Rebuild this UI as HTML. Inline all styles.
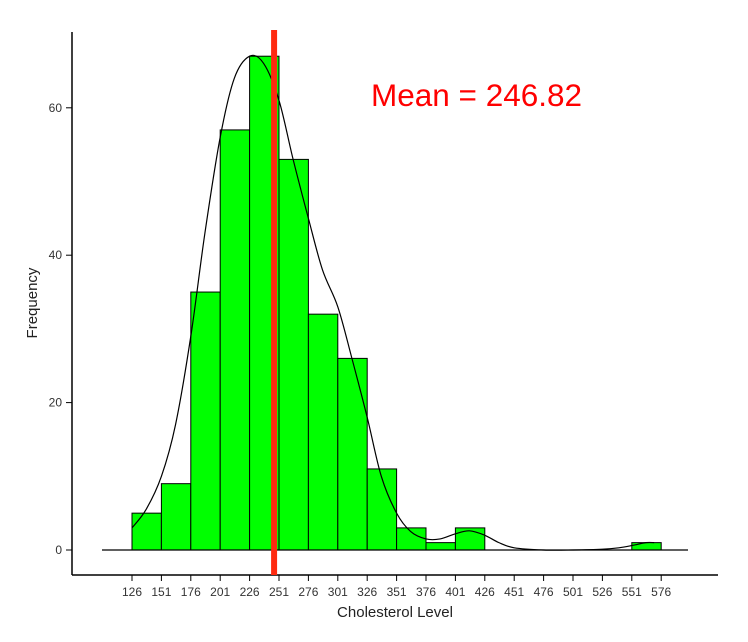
<!DOCTYPE html>
<html><head><meta charset="utf-8"><style>
body{margin:0;background:#fff;}
svg{display:block;font-family:"Liberation Sans",sans-serif;}
</style></head><body>
<svg id="c" width="748" height="642" viewBox="0 0 748 642">
<g id="bars"></g>
</svg>
<script>
const binStarts=[126,151,176,201,226,251,276,301,326,351,376,401,426,451,476,501,526,551];
const counts=[5,9,35,57,67,53,32,26,11,3,1,3,0,0,0,0,0,1];
const tickLabels=["126","151","176","201","226","251","276","301","326","351","376","401","426","451","476","501","526","551","576"];
const yTicks=[0,20,40,60];
const densX=[126,138,151,163,176,188,201,213,226,238,251,263,276,288,301,313,326,338,351,363,376,388,401,413,426,438,451,476,501,526,540,551,563,570];
const densY=[3,5.5,10,17,29,43,56,64,67,66,61,53,45,38,33,26,18,10,5,2.5,1.5,1.5,2.2,2.6,2,1,0.3,0,0,0.1,0.3,0.6,1,1];
const meanVal=246.82;
const NS="http://www.w3.org/2000/svg";
const svg=document.getElementById('c');
const x=v=>132+(v-126)/25*29.4;
const y=v=>550-v*7.37;
function mk(t,a,p){const e=document.createElementNS(NS,t);for(const k in a)e.setAttribute(k,a[k]);(p||svg).appendChild(e);return e;}
let ya=mk('line',{x1:72,y1:32,x2:72,y2:575,stroke:'#000','stroke-width':1.5});


let xa=mk('line',{x1:72,y1:575,x2:718,y2:575,stroke:'#000','stroke-width':1.5});


const bg=document.getElementById('bars');
counts.forEach((c,i)=>{
 if(c<=0)return;
 const r=mk('rect',{x:x(binStarts[i]),y:y(c),width:x(binStarts[i]+25)-x(binStarts[i]),height:y(0)-y(c),fill:'#00ff00',stroke:'#000','stroke-width':1},bg);
 
 
});
let bl=mk('line',{x1:102,y1:550,x2:688,y2:550,stroke:'#000','stroke-width':1.2});


const pts=densX.map((v,i)=>[x(v),y(densY[i])]);
let d='M'+pts[0][0]+','+pts[0][1];
for(let i=0;i<pts.length-1;i++){
 const p0=pts[Math.max(0,i-1)],p1=pts[i],p2=pts[i+1],p3=pts[Math.min(pts.length-1,i+2)];
 d+=' C'+(p1[0]+(p2[0]-p0[0])/6)+','+(p1[1]+(p2[1]-p0[1])/6)+' '+(p2[0]-(p3[0]-p1[0])/6)+','+(p2[1]-(p3[1]-p1[1])/6)+' '+p2[0]+','+p2[1];
}
let dc=mk('path',{d:d,fill:'none',stroke:'#000','stroke-width':1.2});


let ml=mk('line',{x1:x(meanVal),y1:30,x2:x(meanVal),y2:575,stroke:'#ff2a10','stroke-width':6});


let mt=mk('text',{x:371,y:106,fill:'#ff0000','font-size':31.5});
mt.textContent='Mean = '+meanVal.toFixed(2);


yTicks.forEach(v=>{
 mk('line',{x1:66,y1:y(v),x2:72,y2:y(v),stroke:'#000'});
 const t=mk('text',{x:62,y:y(v)+4,'text-anchor':'end','font-size':12,fill:'#333'});
 t.textContent=v;
 
 
});
tickLabels.forEach((l,i)=>{
 const xv=x(126+25*i);
 mk('line',{x1:xv,y1:575,x2:xv,y2:581,stroke:'#000'});
 const t=mk('text',{x:xv,y:596,'text-anchor':'middle','font-size':12,fill:'#333'});
 t.textContent=l;
 
 
});
let xt=mk('text',{x:395,y:617,'text-anchor':'middle','font-size':15,fill:'#222'});
xt.textContent='Cholesterol Level';


let yt=mk('text',{x:0,y:0,'text-anchor':'middle','font-size':15,fill:'#222',transform:'translate(37,303) rotate(-90)'});
yt.textContent='Frequency';


</script>
</body></html>
